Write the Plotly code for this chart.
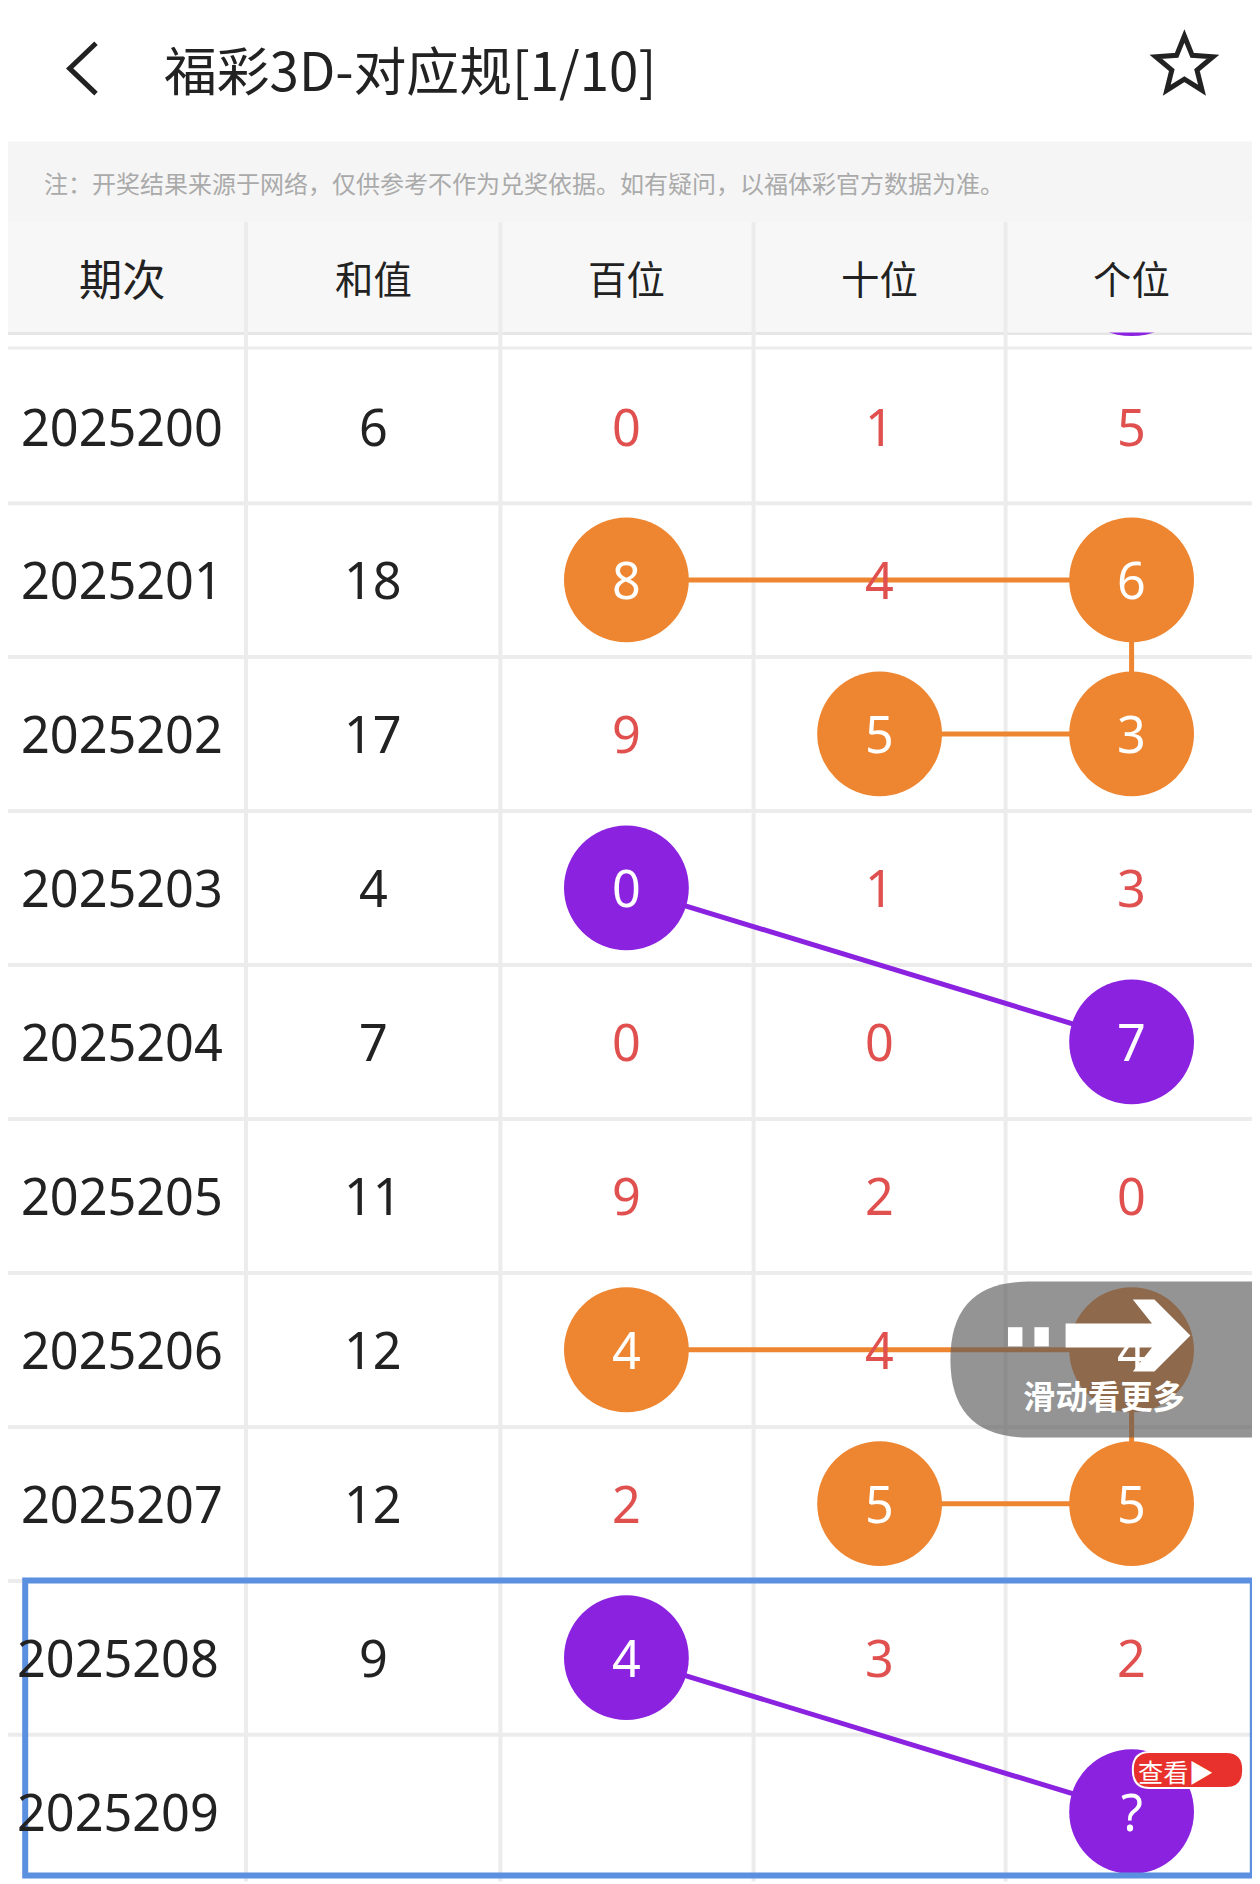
import math
import plotly.graph_objects as go

# table data
periods = ["2025200", "2025201", "2025202", "2025203", "2025204",
           "2025205", "2025206", "2025207", "2025208", "2025209"]
sums = ["6", "18", "17", "4", "7", "11", "12", "12", "9", ""]
hundreds = ["0", "8", "9", "0", "0", "9", "4", "2", "4", ""]
tens = ["1", "4", "5", "1", "0", "2", "4", "5", "3", ""]
units = ["5", "6", "3", "3", "7", "0", "4", "5", "2", "?"]
headers = ["期次", "和值", "百位", "十位", "个位"]

# circled cells: (row, col, colour key)
circles = [(1, 2, "o"), (1, 4, "o"), (2, 3, "o"), (2, 4, "o"),
           (3, 2, "p"), (4, 4, "p"),
           (6, 2, "o"), (6, 4, "o"), (7, 3, "o"), (7, 4, "o"),
           (8, 2, "p"), (9, 4, "p")]
links = [((1, 2), (1, 4), "o"), ((1, 4), (2, 4), "o"), ((2, 3), (2, 4), "o"),
         ((3, 2), (4, 4), "p"), ((6, 2), (6, 4), "o"), ((6, 4), (7, 4), "o"),
         ((7, 3), (7, 4), "o"), ((8, 2), (9, 4), "p")]

ORANGE = "#ee8530"
PURPLE = "#8a22e0"
RED = "#e0504f"
COL = {"o": ORANGE, "p": PURPLE}
S = 1.2  # reference is 1050 wide, page is 1260
OFF = 8 / S  # page body margin

col_x = [102, 311, 522, 733, 943]
borders = [205, 417, 628, 838]
row_y = [355 + 128.3 * i for i in range(10)]

fig = go.Figure()
shapes = []
# backgrounds
shapes.append(dict(type="rect", x0=0, x1=1050, y0=118, y1=185, fillcolor="#f5f5f5", line_width=0, layer="below"))
shapes.append(dict(type="rect", x0=0, x1=1050, y0=185, y1=277, fillcolor="#f7f7f7", line_width=0, layer="below"))
shapes.append(dict(type="line", x0=0, x1=1050, y0=278, y1=278, line=dict(color="#e6e6e6", width=3), layer="below"))
shapes.append(dict(type="line", x0=0, x1=1050, y0=290, y1=290, line=dict(color="#ececec", width=3), layer="below"))
for b in borders:
    shapes.append(dict(type="line", x0=b, x1=b, y0=185, y1=1568, line=dict(color="#ececec", width=4), layer="below"))
for i in range(1, 10):
    y = row_y[i] - 64
    shapes.append(dict(type="line", x0=0, x1=1050, y0=y, y1=y, line=dict(color="#ececec", width=4), layer="below"))

# link lines
for (r1, c1), (r2, c2), k in links:
    fig.add_trace(go.Scatter(x=[col_x[c1], col_x[c2]], y=[row_y[r1], row_y[r2]], mode="lines",
                             line=dict(color=COL[k], width=5), hoverinfo="skip", showlegend=False))
# circles
for k in ["o", "p"]:
    pts = [(col_x[c], row_y[r]) for r, c, kk in circles if kk == k]
    fig.add_trace(go.Scatter(x=[p[0] for p in pts], y=[p[1] for p in pts], mode="markers",
                             marker=dict(size=104 * S, color=COL[k], line_width=0),
                             hoverinfo="skip", showlegend=False))
# partial purple circle at top
shapes.append(dict(type="circle", x0=912, x1=974, y0=250, y1=280, fillcolor=PURPLE, line_width=0, layer="below"))
shapes.append(dict(type="rect", x0=840, x1=1050, y0=185, y1=277, fillcolor="#f7f7f7", line_width=0, layer="below"))

circled = {(r, c) for r, c, _ in circles}
cols = [periods, sums, hundreds, tens, units]
ann = []
for c, vals in enumerate(cols):
    for r, v in enumerate(vals):
        if c < 2:
            color = "#222222"
        else:
            color = "white" if (r, c) in circled else RED
        x = col_x[c] if not (c == 0 and r >= 8) else 98
        ann.append(dict(x=x, y=row_y[r], text=v, showarrow=False,
                        font=dict(size=42 * S, color=color, family="Noto Sans")))
for c, h in enumerate(headers):
    ann.append(dict(x=col_x[c], y=231, text=h, showarrow=False,
                    font=dict(size=36 * S if c == 0 else 32 * S, color="#222", family="Noto Sans CJK SC")))

# header
ann.append(dict(x=135, y=57, text="福彩3D-对应规[1/10]", showarrow=False, xanchor="left",
                font=dict(size=44 * S, color="#222", family="Noto Sans CJK SC")))
shapes.append(dict(type="path", path="M 80 36 L 58 57 L 80 78", line=dict(color="#222", width=5)))
star = []
for i in range(10):
    a = -math.pi / 2 + i * math.pi / 5
    rr = 25 if i % 2 == 0 else 11
    star.append(f"{987 + rr * math.cos(a):.1f} {55 + rr * math.sin(a):.1f}")
shapes.append(dict(type="path", path="M " + " L ".join(star) + " Z", line=dict(color="#222", width=5)))
ann.append(dict(x=35, y=152, text="注：开奖结果来源于网络，仅供参考不作为兑奖依据。如有疑问，以福体彩官方数据为准。",
                showarrow=False, xanchor="left",
                font=dict(size=20 * S, color="#aaaaaa", family="Noto Sans CJK SC")))

# swipe overlay
shapes.append(dict(type="path", path="M 857 1068 L 1050 1068 L 1050 1198 L 857 1198 Q 792 1198 792 1133 Q 792 1068 857 1068 Z",
                   fillcolor="rgba(90,90,90,0.65)", line_width=0))
shapes.append(dict(type="path", path="M 888 1103 L 960 1103 L 944 1083 L 962 1083 L 992 1113 L 962 1143 L 944 1143 L 960 1123 L 888 1123 Z",
                   fillcolor="white", line_width=0))
for xx in [840, 862]:
    shapes.append(dict(type="rect", x0=xx, x1=xx + 12, y0=1106, y1=1122, fillcolor="white", line_width=0))
ann.append(dict(x=920, y=1162, text="<b>滑动看更多</b>", showarrow=False,
                font=dict(size=27 * S, color="white", family="Noto Sans CJK SC")))

# highlight box
shapes.append(dict(type="rect", x0=21, x1=1044, y0=1317, y1=1563, line=dict(color="#5b8fdf", width=6)))
# view badge
shapes.append(dict(type="path", path="M 958 1460 L 1022 1460 Q 1036 1460 1036 1475 Q 1036 1490 1022 1490 L 958 1490 Q 944 1490 944 1475 Q 944 1460 958 1460 Z",
                   fillcolor="#e8302c", line=dict(color="white", width=2)))
ann.append(dict(x=980, y=1476, text="查看▶", showarrow=False,
                font=dict(size=21 * S, color="white", family="Noto Sans CJK SC")))

W, H = 1252, 1876
fig.update_layout(
    width=W, height=H, margin=dict(l=0, r=0, t=0, b=0),
    paper_bgcolor="white", plot_bgcolor="white",
    xaxis=dict(range=[OFF, OFF + W / S], visible=False, fixedrange=True),
    yaxis=dict(range=[OFF + H / S, OFF], visible=False, fixedrange=True),
    shapes=shapes, annotations=ann,
)
fig.write_html("out.html")
